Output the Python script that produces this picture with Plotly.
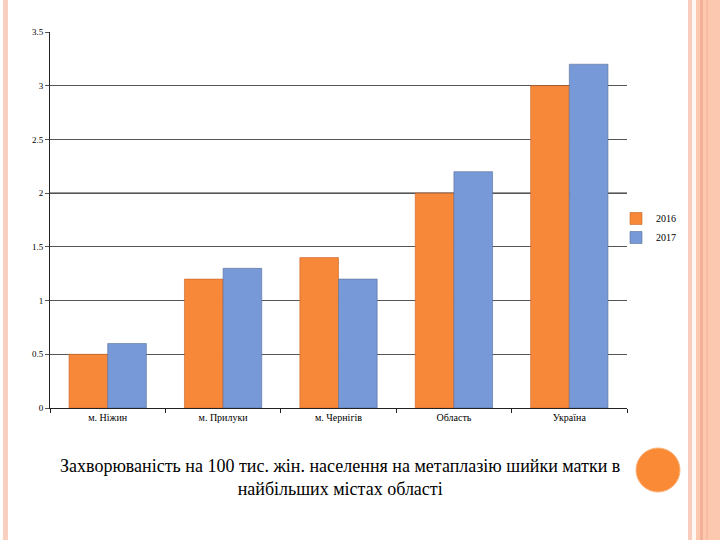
import plotly.graph_objects as go

categories = ["м. Ніжин", "м. Прилуки", "м. Чернігів", "Область", "Україна"]
series_names = ["2016", "2017"]
values_2016 = [0.5, 1.2, 1.4, 2.0, 3.0]
values_2017 = [0.6, 1.3, 1.2, 2.2, 3.2]
y_ticks = [0, 0.5, 1, 1.5, 2, 2.5, 3, 3.5]
y_tick_labels = ["0", "0.5", "1", "1.5", "2", "2.5", "3", "3.5"]
caption = "Захворюваність на 100 тис. жін. населення на метаплазію шийки матки в<br>найбільших містах області"

SERIF = "'Liberation Serif', 'Times New Roman', Times, 'DejaVu Serif', serif"

W, H = 720, 540
L, R, T, B = 50, 627, 32, 408

def px(x):
    return (x - L) / (R - L)

def py(y):
    return (B - y) / (B - T)

fig = go.Figure()
fig.add_trace(go.Bar(x=categories, y=values_2016, name=series_names[0],
                     marker=dict(color="#F7883A", line=dict(color="rgba(200,100,40,0.6)", width=1))))
fig.add_trace(go.Bar(x=categories, y=values_2017, name=series_names[1],
                     marker=dict(color="#7799D8", line=dict(color="rgba(90,110,150,0.6)", width=1))))

shapes = []
def rect(x0, x1, color, y0=0, y1=H):
    shapes.append(dict(type="rect", xref="paper", yref="paper",
                       x0=px(x0), x1=px(x1), y0=py(y1), y1=py(y0),
                       fillcolor=color, line=dict(width=0), layer="below"))

# decorative stripes
rect(3, 8, "#F9CFC0")
rect(688, 692, "#F8CCBE")
rect(692, 696, "#FFF8F2")
rect(696, 720, "#FDC8B0")
rect(700, 703, "#F2B096")
rect(706, 708, "#F7BCA2")
# orange circle
shapes.append(dict(type="circle", xref="paper", yref="paper",
                   x0=px(636), x1=px(680), y0=py(492), y1=py(448),
                   fillcolor="#FA8A36", line=dict(color="#FBB27A", width=1)))
# emphasised gridline at 2
shapes.append(dict(type="line", xref="paper", yref="y", x0=0, x1=1, y0=2, y1=2,
                   line=dict(color="#333333", width=1.5), layer="below"))

fig.update_layout(
    width=W, height=H,
    margin=dict(l=L, r=W - R, t=T, b=H - B),
    paper_bgcolor="white", plot_bgcolor="white",
    barmode="group", bargap=0.33, bargroupgap=0,
    font=dict(family=SERIF, color="#000000", size=10),
    shapes=shapes,
    showlegend=True,
    legend=dict(x=px(616), y=py(228), xanchor="left", yanchor="middle",
                font=dict(family=SERIF, size=10),
                bgcolor="rgba(0,0,0,0)", itemwidth=30, tracegroupgap=0),
    annotations=[dict(text=caption, xref="paper", yref="paper",
                      x=px(340), y=py(477), xanchor="center", yanchor="middle",
                      showarrow=False,
                      font=dict(family=SERIF, size=18, color="#000000"))],
)
fig.update_xaxes(showline=True, linecolor="#222222", linewidth=1,
                 ticks="outside", tickson="boundaries", ticklen=4, tickcolor="#222222",
                 tickfont=dict(family=SERIF, size=10),
                 showgrid=False, zeroline=False)
fig.update_yaxes(range=[0, 3.5], tickvals=y_ticks, ticktext=y_tick_labels,
                 showline=True, linecolor="#222222", linewidth=1,
                 ticks="outside", ticklen=4, tickcolor="#555555",
                 showgrid=True, gridcolor="#555555", gridwidth=1,
                 zeroline=False,
                 tickfont=dict(family=SERIF, size=9))

fig.write_html("out.html")
